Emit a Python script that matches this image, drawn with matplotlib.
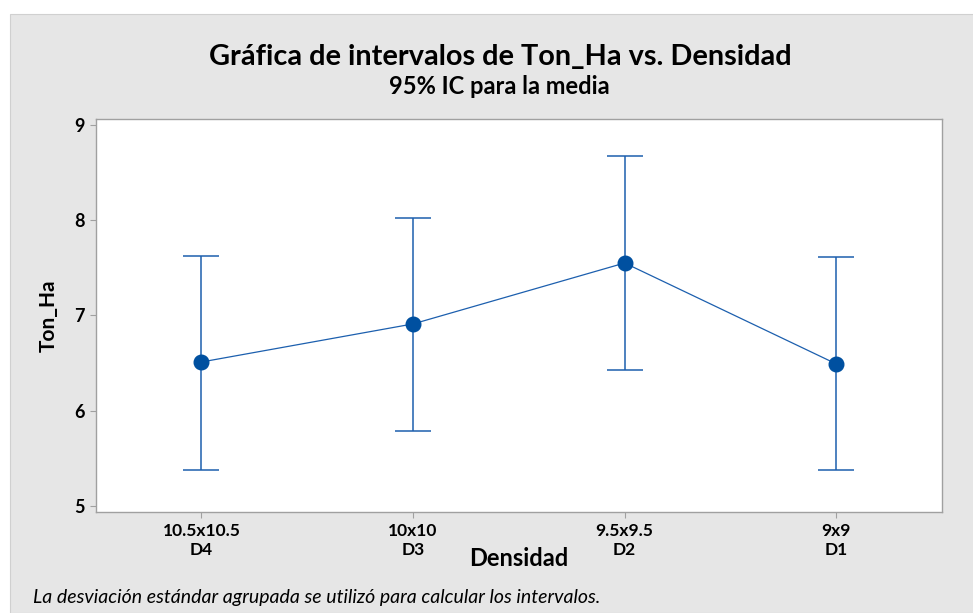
import matplotlib
matplotlib.use("Agg")
import matplotlib.pyplot as plt
from matplotlib import font_manager as fm
from matplotlib.patches import Rectangle
import numpy as np

# datos
densidad = ['10.5x10.5', '10x10', '9.5x9.5', '9x9']
codigo = ['D4', 'D3', 'D2', 'D1']
media = [6.51, 6.91, 7.55, 6.49]
ic_sup = [7.62, 8.02, 8.67, 7.61]
ic_inf = [5.38, 5.78, 6.43, 5.37]

azul = '#1c5fae'
azul_punto = '#0050a0'
gris_borde = '#a0a0a0'


def fuente(size, weight=400, style='normal', name='Lato'):
    return fm.FontProperties(family=[name, 'DejaVu Sans'], weight=weight,
                             style=style, size=size)


fig = plt.figure(figsize=(9.73, 6.13), dpi=100)
fig.patch.set_facecolor('white')
# fondo gris tipo Minitab
fig.patches.append(Rectangle((10/973, 0), 1, 1 - 14/613, transform=fig.transFigure,
                             facecolor='#e6e6e6', edgecolor='#d0d0d0', lw=0.8, zorder=-10))

ax = fig.add_axes([95.7/973, 1 - 512/613, (942 - 95.7)/973, (512 - 118.7)/613])
ax.set_facecolor('white')
ax.set_zorder(5)

x = np.arange(1, len(densidad) + 1)
media = np.array(media)
err = [media - np.array(ic_inf), np.array(ic_sup) - media]

ax.errorbar(x, media, yerr=err, fmt='none', ecolor=azul, elinewidth=1.1,
            capsize=13, capthick=1.1, zorder=2)
ax.plot(x, media, color=azul, lw=0.9, zorder=3)
ax.plot(x, media, 'o', color=azul_punto, markersize=10.5, zorder=4)

ax.set_xlim(0.5, 4.5)
ax.set_ylim(4.934, 9.066)
ax.set_yticks([5, 6, 7, 8, 9])
ax.set_xticks(x)
ax.set_xticklabels([f'{d}\n{c}' for d, c in zip(densidad, codigo)],
                   fontproperties=fuente(12.5, 'bold'), linespacing=1.2)
ax.set_yticklabels([str(v) for v in [5, 6, 7, 8, 9]], fontproperties=fuente(13, 'bold'))

for s in ax.spines.values():
    s.set_color(gris_borde)
    s.set_linewidth(1.0)
ax.tick_params(axis='both', direction='out', length=4, width=0.8, color=gris_borde, pad=4)

ax.set_ylabel('Ton_Ha', fontproperties=fuente(15, 'bold'), labelpad=11)
fig.text(519/973, 1 - 558/613, 'Densidad', fontproperties=fuente(17, 'bold'),
         ha='center', va='center')

fig.text(500/973, 1 - 57/613, 'Gráfica de intervalos de Ton_Ha vs. Densidad',
         fontproperties=fuente(20.8, 'bold'), ha='center', va='center')
fig.text(499/973, 1 - 87/613, '95% IC para la media',
         fontproperties=fuente(17, 'bold'), ha='center', va='center')
fig.text(33/973, 1 - 597/613,
         'La desviación estándar agrupada se utilizó para calcular los intervalos.',
         fontproperties=fuente(14, 'normal', 'italic'), ha='left', va='center')

fig.savefig('out.png', dpi=100, facecolor=fig.get_facecolor())
